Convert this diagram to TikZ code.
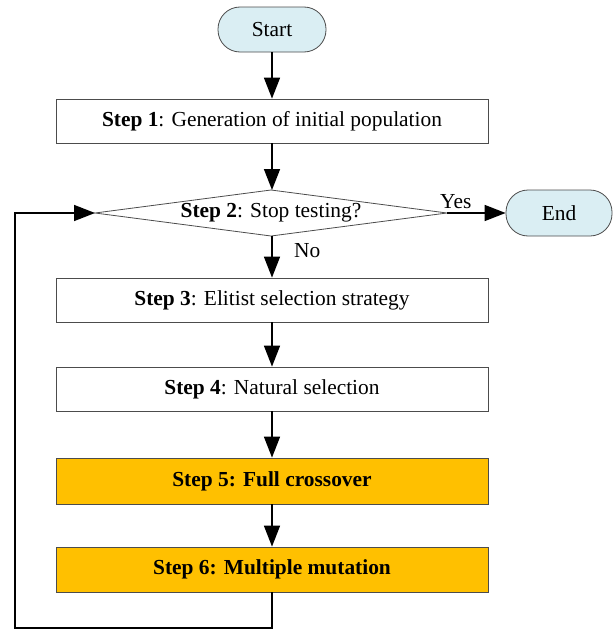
\documentclass[tikz,border=0pt]{standalone}
\usepackage{fontspec}
\setmainfont{Liberation Serif}
\usetikzlibrary{arrows.meta}
\definecolor{termblue}{HTML}{DAEEF3}
\definecolor{stepgold}{HTML}{FFC000}
\begin{document}
\begin{tikzpicture}[x=1pt,y=-1pt,
    font=\fontsize{21.4}{24}\selectfont,
    box/.style={draw=black!70,line width=0.8pt,minimum width=432pt,minimum height=44pt,inner sep=0pt},
    term/.style={draw=black!70,line width=0.8pt,fill=termblue,rounded corners=22pt,minimum width=108pt,minimum height=45pt,inner sep=0pt},
    gold/.style={box,fill=stepgold,font=\fontsize{21.4}{24}\selectfont\bfseries},
    flow/.style={line width=1.6pt,-{Triangle[length=21pt,width=16pt]}}]
         \useasboundingbox (0,0) rectangle (613,629) ;
         \node[term] (start) at (272,29.5) {Start} ;
         \node[box] (s1) at (272,121) {\textbf{Step 1}: Generation of initial population} ;
         \draw[draw=black!70,line width=0.8pt] (95,213) coordinate (dl) -- (271,190) coordinate (dt)
            -- (447,213) coordinate (dr) -- (271,236) coordinate (db) -- cycle ;
         \node (s2) at (271,213) {\textbf{Step 2}: Stop testing?} ;
         \node[term,minimum width=106pt,minimum height=46pt] (end) at (559,213) {End} ;
         \node[box] (s3) at (272,300) {\textbf{Step 3}: Elitist selection strategy} ;
         \node[box] (s4) at (272,389) {\textbf{Step 4}: Natural selection} ;
         \node[gold,minimum height=46pt] (s5) at (272,481) {Step 5: Full crossover} ;
         \node[gold,minimum height=45pt] (s6) at (272,569.5) {Step 6: Multiple mutation} ;
         % arrows
         \draw[flow] (start) -- (s1) ;
         \draw[flow] (s1) -- (s1 |- dt) ;
         \draw[flow] (dr) -- (end) node[pos=0.15,above=0pt] (yes) {Yes} ;
         \draw[flow] (db -| s3) -- (s3) node[pos=0.35,right=18pt] (no) {No} ;
         \draw[flow] (s3) -- (s4) ;
         \draw[flow] (s4) -- (s5) ;
         \draw[flow] (s5) -- (s6) ;
         % loop back
         \coordinate (lb) at (15,628) ;
         \draw[flow] (s6.south) -- (s6.south |- lb) -- (lb) -- (lb |- dl) -- (dl) ;
\end{tikzpicture}
\end{document}
